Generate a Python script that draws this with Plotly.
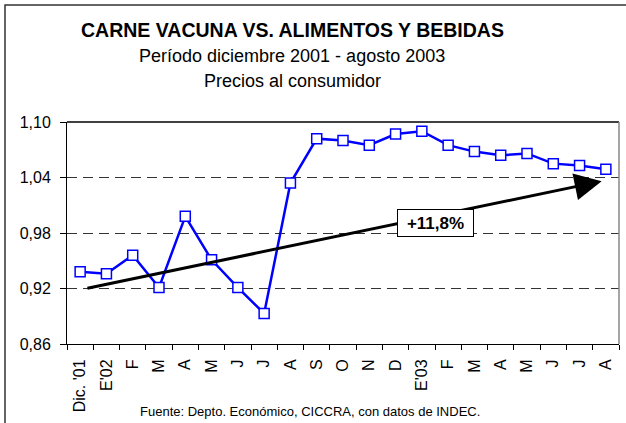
import plotly.graph_objects as go

months = ["Dic. '01", "E'02", "F", "M", "A", "M", "J", "J", "A", "S", "O", "N",
          "D", "E'03", "F", "M", "A", "M", "J", "J", "A"]
ratio = [0.938, 0.936, 0.956, 0.921, 0.998, 0.951, 0.921, 0.893, 1.034, 1.082,
         1.080, 1.075, 1.087, 1.090, 1.075, 1.068, 1.064, 1.066, 1.055, 1.053, 1.049]
y_ticks = [0.86, 0.92, 0.98, 1.04, 1.10]
y_labels = ["0,86", "0,92", "0,98", "1,04", "1,10"]
trend_start = (0.22, 0.920)
trend_end = (19.84, 1.036)
trend_label = "+11,8%"
trend_label_pos = (13.5, 0.991)

FONT = "Liberation Sans, Arial, sans-serif"
W, H = 626, 423
L, R, T, B = 67, 7, 122, 79
pw, ph = W - L - R, H - T - B

def px(x):
    return (x - L) / pw

def py(y):
    return (H - B - y) / ph

xs = list(range(len(months)))

fig = go.Figure()
fig.add_trace(go.Scatter(
    x=xs, y=ratio, mode="lines+markers",
    line=dict(color="#0000FF", width=2.5),
    marker=dict(symbol="square", size=10, color="white",
                line=dict(color="#0000FF", width=1.5)),
    cliponaxis=False, showlegend=False))

fig.update_layout(
    width=W, height=H,
    margin=dict(l=L, r=R, t=T, b=B),
    paper_bgcolor="white", plot_bgcolor="white",
    font=dict(family=FONT, color="black"),
    xaxis=dict(range=[-0.5, len(months) - 0.5], tickmode="array", tickvals=xs,
               ticktext=months, tickangle=-90, ticks="", showgrid=False,
               showline=True, linecolor="black", linewidth=1, zeroline=False,
               tickfont=dict(size=16, family=FONT), ticklabelstandoff=8,
               minor=dict(tickmode="array",
                          tickvals=[i - 0.5 for i in range(len(months) + 1)],
                          ticks="outside", ticklen=5, tickcolor="black",
                          showgrid=False)),
    yaxis=dict(range=[y_ticks[0], y_ticks[-1]], tickmode="array", tickvals=y_ticks,
               ticktext=y_labels, ticks="outside", ticklen=6, tickcolor="black",
               showline=True, linecolor="black", linewidth=1, zeroline=False,
               showgrid=True, gridcolor="#333333", gridwidth=1, griddash="10px,6px",
               tickfont=dict(size=16, family=FONT), ticklabelstandoff=6),
)

shapes = [
    dict(type="line", xref="paper", yref="paper", x0=0, x1=1, y0=1, y1=1,
         line=dict(color="black", width=1.5)),
    dict(type="line", xref="paper", yref="paper", x0=1, x1=1, y0=0, y1=1,
         line=dict(color="#888888", width=1.5)),
    dict(type="rect", xref="paper", yref="paper", x0=px(5), x1=px(640),
         y0=py(440), y1=py(5), line=dict(color="#333333", width=1.5)),
]
fig.update_layout(shapes=shapes)

anns = [
    dict(text="<b>CARNE VACUNA VS. ALIMENTOS Y BEBIDAS</b>", x=px(292), y=py(30),
         font=dict(size=19.5)),
    dict(text="Período diciembre 2001 - agosto 2003", x=px(292), y=py(56),
         font=dict(size=18)),
    dict(text="Precios al consumidor", x=px(292), y=py(81), font=dict(size=18)),
    dict(text="Fuente: Depto. Económico, CICCRA, con datos de INDEC.", x=px(310),
         y=py(411), font=dict(size=13)),
]
for a in anns:
    a.update(xref="paper", yref="paper", showarrow=False, xanchor="center",
             yanchor="middle")
    fig.add_annotation(**a)

fig.add_annotation(x=trend_end[0], y=trend_end[1], ax=trend_start[0], ay=trend_start[1],
                   xref="x", yref="y", axref="x", ayref="y", text="",
                   showarrow=True, arrowhead=2, arrowsize=1.8, arrowwidth=3,
                   arrowcolor="black")
fig.add_annotation(x=trend_label_pos[0], y=trend_label_pos[1], xref="x", yref="y",
                   text="<b>" + trend_label + "</b>", showarrow=False,
                   font=dict(size=17), bgcolor="white", bordercolor="black",
                   borderwidth=1, borderpad=4, width=67, height=18)

fig.write_html("out.html", config={"displayModeBar": False},
               post_script="document.body.style.margin='0';document.body.style.overflow='hidden';")
